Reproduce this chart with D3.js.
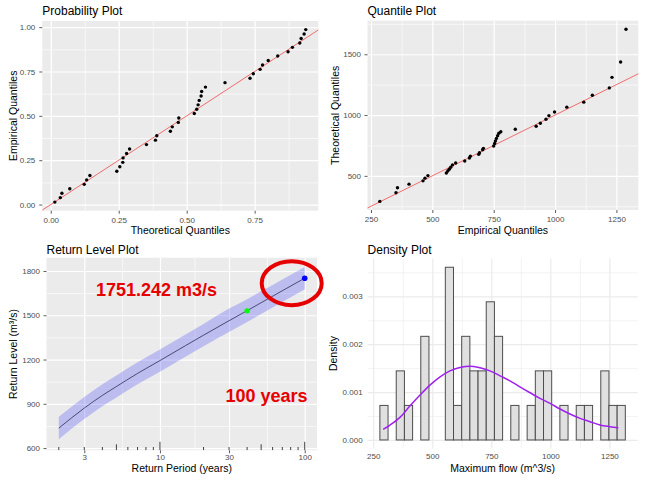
<!DOCTYPE html>
<html>
<head>
<meta charset="utf-8">
<script src="https://cdn.jsdelivr.net/npm/d3@7"></script>
<style>
  body { margin: 0; background: #fff; }
  svg { display: block; }
</style>
</head>
<body>
<svg id="chart" width="647" height="480"></svg>
<script>
// ---- data ----
// probability plot: fitted CDF at each sorted observation vs plotting position
const probTheoretical = [0.015, 0.035, 0.041, 0.070, 0.123, 0.132, 0.144, 0.243, 0.254, 0.265,
  0.266, 0.279, 0.290, 0.352, 0.385, 0.390, 0.440, 0.447, 0.469, 0.471,
  0.528, 0.537, 0.542, 0.546, 0.553, 0.555, 0.569, 0.641, 0.733, 0.745,
  0.770, 0.779, 0.800, 0.835, 0.873, 0.889, 0.916, 0.921, 0.932, 0.938];
const probEmpirical = [0.014, 0.039, 0.064, 0.089, 0.114, 0.139, 0.164, 0.188, 0.213, 0.238,
  0.263, 0.288, 0.313, 0.338, 0.363, 0.388, 0.413, 0.438, 0.463, 0.488,
  0.513, 0.537, 0.562, 0.587, 0.612, 0.637, 0.662, 0.687, 0.712, 0.737,
  0.762, 0.787, 0.812, 0.837, 0.861, 0.886, 0.911, 0.936, 0.961, 0.986];

// annual maximum flows (sorted) and the fitted model quantiles
const maxFlow = [286, 352, 358, 405, 462, 470, 482, 557, 563, 569,
  575, 582, 595, 632, 651, 655, 689, 692, 705, 708,
  750, 754, 757, 761, 766, 771, 779, 838, 923, 940,
  963, 975, 998, 1048, 1117, 1152, 1221, 1232, 1267, 1289];
const modelQuantile = [290, 361, 402, 432, 459, 481, 502, 524, 540, 554,
  571, 590, 606, 622, 647, 661, 677, 690, 715, 726,
  745, 766, 786, 808, 830, 850, 863, 883, 908, 932,
  965, 995, 1025, 1065, 1106, 1163, 1223, 1310, 1436, 1705];

// return levels with confidence band
const returnPeriod = [2, 3, 4, 5, 7, 10, 15, 20, 30, 40, 50, 70, 100];
const returnLevel  = [735, 871, 957, 1017, 1106, 1193, 1294, 1365, 1463, 1531, 1585, 1666, 1751.242];
const levelLower   = [660, 797, 883, 943, 1032, 1118, 1219, 1290, 1386, 1454, 1508, 1590, 1677];
const levelUpper   = [812, 946, 1032, 1092, 1181, 1268, 1370, 1441, 1545, 1609, 1662, 1743, 1827];
const greenPoint = [40, 1530];
const bluePoint  = [100, 1751.242];

// histogram bins and fitted density curve
const binStart = 278, binWidth = 34.65, binCount = 30;
const densFlow  = [292, 321, 363, 405, 448, 490, 533, 575, 617, 660, 702, 744, 787,
  829, 871, 914, 956, 999, 1041, 1083, 1126, 1168, 1210, 1253, 1288];
const densValue = [0.000222, 0.000312, 0.000472, 0.000708, 0.000938, 0.001146, 0.001319,
  0.001444, 0.001514, 0.001542, 0.001507, 0.001444, 0.00134, 0.001236, 0.00111,
  0.000986, 0.000868, 0.000764, 0.000646, 0.000542, 0.000451, 0.000382, 0.000312,
  0.000278, 0.000257];

// tick labels
const probTicks = [0, 0.25, 0.5, 0.75, 1];
const probMinor = [0.125, 0.375, 0.625, 0.875];
const flowTicks = [250, 500, 750, 1000, 1250];
const flowMinor = [375, 625, 875, 1125];
const qTicksY = [500, 1000, 1500];
const qMinorY = [250, 750, 1250, 1750];
const rpTicks = [3, 10, 30, 100];
const rpMinor = [5.48, 17.3, 54.8];
const rlTicks = [600, 900, 1200, 1500, 1800];
const rlMinor = [750, 1050, 1350, 1650];
const densTicks = [0, 0.001, 0.002, 0.003];
const densMinor = [0.0005, 0.0015, 0.0025, 0.0035];
const logTicks = [2, 3, 4, 5, 6, 7, 8, 9, 10, 20, 30, 40, 50, 60, 70, 80, 90, 100];

// ---- drawing ----
const FONT = '"Liberation Sans", Arial, sans-serif';
const svg = d3.select("#chart");
svg.append("rect").attr("width", 647).attr("height", 480).attr("fill", "#fff");

function expand(ext) {
  const d = ext[1] - ext[0];
  return [ext[0] - d * 0.05, ext[1] + d * 0.05];
}

let clipId = 0;
function panel(box, x, y, o) {
  const g = svg.append("g");
  const w = box.r - box.l, h = box.b - box.t;
  if (o.bg) g.append("rect").attr("x", box.l).attr("y", box.t)
    .attr("width", w).attr("height", h).attr("fill", o.bg);

  const inX = v => { const p = x(v); return p >= box.l - 0.5 && p <= box.r + 0.5; };
  const inY = v => { const p = y(v); return p >= box.t - 0.5 && p <= box.b + 0.5; };
  const grid = (vals, sw) => {
    g.append("g").attr("transform", `translate(0,${box.b})`)
      .call(d3.axisBottom(x).tickValues(vals.filter(inX)).tickSize(-h).tickFormat(""))
      .call(s => s.select(".domain").remove())
      .call(s => s.selectAll("line").attr("stroke", o.grid).attr("stroke-width", sw));
  };
  const gridY = (vals, sw) => {
    g.append("g").attr("transform", `translate(${box.l},0)`)
      .call(d3.axisLeft(y).tickValues(vals.filter(inY)).tickSize(-w).tickFormat(""))
      .call(s => s.select(".domain").remove())
      .call(s => s.selectAll("line").attr("stroke", o.grid).attr("stroke-width", sw));
  };
  grid(o.xMinor, 0.6); gridY(o.yMinor, 0.6);
  grid(o.xTicks, 1.2); gridY(o.yTicks, 1.2);

  const ax = g.append("g").attr("transform", `translate(0,${box.b})`)
    .call(d3.axisBottom(x).tickValues(o.xTicks.filter(inX)).tickSize(o.tick).tickPadding(o.padX).tickFormat(o.xFmt));
  const ay = g.append("g").attr("transform", `translate(${box.l},0)`)
    .call(d3.axisLeft(y).tickValues(o.yTicks.filter(inY)).tickSize(o.tick).tickPadding(o.padY).tickFormat(o.yFmt));
  [ax, ay].forEach(a => {
    a.select(".domain").remove();
    a.selectAll("line").attr("stroke", "#333").attr("stroke-width", 0.8);
    a.selectAll("text").attr("fill", "#4d4d4d").attr("font-size", 8).attr("font-family", FONT);
  });

  g.append("text").attr("x", box.l).attr("y", o.titleY).text(o.title)
    .attr("font-family", FONT).attr("font-size", 12).attr("fill", "#000");
  g.append("text").attr("x", (box.l + box.r) / 2).attr("y", o.xTitleY).text(o.xTitle)
    .attr("text-anchor", "middle").attr("font-family", FONT).attr("font-size", 10.5).attr("fill", "#000");
  g.append("text").attr("transform", `translate(${o.yTitleX},${(box.t + box.b) / 2}) rotate(-90)`)
    .text(o.yTitle).attr("text-anchor", "middle").attr("font-family", FONT)
    .attr("font-size", 10.5).attr("fill", "#000");

  const id = "clip" + (clipId++);
  svg.append("clipPath").attr("id", id).append("rect")
    .attr("x", box.l).attr("y", box.t).attr("width", w).attr("height", h);
  return g.append("g").attr("clip-path", `url(#${id})`);
}

// 1. Probability plot
{
  const box = { l: 42.3, r: 318.3, t: 21, b: 210.7 };
  const x = d3.scaleLinear().domain(expand(d3.extent(probTheoretical))).range([box.l, box.r]);
  const y = d3.scaleLinear().domain(expand(d3.extent(probEmpirical))).range([box.b, box.t]);
  const p = panel(box, x, y, {
    bg: "#ebebeb", grid: "#fff", tick: 3, padX: 3.5, padY: 4,
    xTicks: probTicks, xMinor: probMinor, yTicks: probTicks, yMinor: probMinor,
    xFmt: d3.format(".2f"), yFmt: d3.format(".2f"),
    title: "Probability Plot", titleY: 15, xTitle: "Theoretical Quantiles", xTitleY: 233.5,
    yTitle: "Empirical Quantiles", yTitleX: 16.5
  });
  const d0 = x.domain();
  p.append("path").datum([d0[0] - 0.1, d0[1] + 0.1])
    .attr("d", d3.line().x(v => x(v)).y(v => y(v)))
    .attr("stroke", "#f24b4b").attr("stroke-width", 0.8).attr("fill", "none");
  p.selectAll("circle").data(probTheoretical).join("circle")
    .attr("cx", d => x(d)).attr("cy", (d, i) => y(probEmpirical[i])).attr("r", 1.7).attr("fill", "#000");
}

// 2. Quantile plot
{
  const box = { l: 367.5, r: 638.3, t: 20.7, b: 210 };
  const x = d3.scaleLinear().domain(expand(d3.extent(maxFlow))).range([box.l, box.r]);
  const y = d3.scaleLinear().domain(expand(d3.extent(modelQuantile))).range([box.b, box.t]);
  const p = panel(box, x, y, {
    bg: "#ebebeb", grid: "#fff", tick: 3, padX: 3.5, padY: 3.5,
    xTicks: flowTicks, xMinor: flowMinor, yTicks: qTicksY, yMinor: qMinorY,
    xFmt: d3.format("d"), yFmt: d3.format("d"),
    title: "Quantile Plot", titleY: 15, xTitle: "Empirical Quantiles", xTitleY: 233.5,
    yTitle: "Theoretical Quantiles", yTitleX: 338.5
  });
  const d0 = x.domain();
  p.append("path").datum([d0[0] - 100, d0[1] + 100])
    .attr("d", d3.line().x(v => x(v)).y(v => y(v)))
    .attr("stroke", "#f24b4b").attr("stroke-width", 0.8).attr("fill", "none");
  p.selectAll("circle").data(maxFlow).join("circle")
    .attr("cx", d => x(d)).attr("cy", (d, i) => y(modelQuantile[i])).attr("r", 1.7).attr("fill", "#000");
}

// 3. Return level plot
{
  const box = { l: 46.5, r: 317, t: 257.7, b: 450.3 };
  const lx = expand(d3.extent(returnPeriod).map(Math.log10));
  const x = d3.scaleLog().domain(lx.map(v => Math.pow(10, v))).range([box.l, box.r]);
  const y = d3.scaleLinear().domain([585, 1890]).range([box.b, box.t]);
  const p = panel(box, x, y, {
    bg: "#ebebeb", grid: "#fff", tick: 3, padX: 1.2, padY: 3.5,
    xTicks: rpTicks, xMinor: rpMinor, yTicks: rlTicks, yMinor: rlMinor,
    xFmt: d3.format("d"), yFmt: d3.format("d"),
    title: "Return Level Plot", titleY: 253.5, xTitle: "Return Period (years)", xTitleY: 471.5,
    yTitle: "Return Level (m³/s)", yTitleX: 17
  });
  const idx = d3.range(returnPeriod.length);
  p.append("path").datum(idx)
    .attr("d", d3.area().curve(d3.curveMonotoneX)
      .x(i => x(returnPeriod[i])).y0(i => y(levelLower[i])).y1(i => y(levelUpper[i])))
    .attr("fill", "#0000ff").attr("fill-opacity", 0.2);
  p.append("path").datum(idx)
    .attr("d", d3.line().curve(d3.curveMonotoneX).x(i => x(returnPeriod[i])).y(i => y(returnLevel[i])))
    .attr("stroke", "#1a1a40").attr("stroke-width", 0.7).attr("fill", "none");
  // log ticks along the bottom
  p.selectAll("line.lt").data(logTicks).join("line").attr("class", "lt")
    .attr("x1", d => x(d)).attr("x2", d => x(d)).attr("y1", box.b)
    .attr("y2", d => box.b - (Math.log10(d) % 1 === 0 ? 8.5 : (d === 5 || d === 50 ? 6 : 3.3)))
    .attr("stroke", "#111").attr("stroke-width", 0.8);
  p.append("circle").attr("cx", x(greenPoint[0])).attr("cy", y(greenPoint[1])).attr("r", 2.7).attr("fill", "#00ff00");
  p.append("circle").attr("cx", x(bluePoint[0])).attr("cy", y(bluePoint[1])).attr("r", 2.8).attr("fill", "#0000ff");

  // hand-drawn annotations
  svg.append("ellipse").attr("cx", x(bluePoint[0]) - 13).attr("cy", y(bluePoint[1]) + 5)
    .attr("rx", 30).attr("ry", 22).attr("fill", "none").attr("stroke", "#e60000").attr("stroke-width", 4);
  svg.append("text").attr("x", 96).attr("y", 295.5).text(d3.format(".3f")(bluePoint[1]) + " m3/s")
    .attr("font-family", FONT).attr("font-weight", "bold").attr("font-size", 18).attr("fill", "#e60000");
  svg.append("text").attr("x", 307.5).attr("y", 402).attr("text-anchor", "end").text(bluePoint[0] + " years")
    .attr("font-family", FONT).attr("font-weight", "bold").attr("font-size", 18).attr("fill", "#e60000");
}

// 4. Density plot
{
  const box = { l: 367.6, r: 637.6, t: 258.6, b: 448.6 };
  const edges = d3.range(binCount + 1).map(i => binStart + i * binWidth);
  const bins = d3.bin().domain([edges[0], edges[binCount]]).thresholds(edges.slice(1, -1))(maxFlow);
  const dens = bins.map(b => b.length / (maxFlow.length * binWidth));
  const x = d3.scaleLinear().domain(expand([edges[0], edges[binCount]])).range([box.l, box.r]);
  const y = d3.scaleLinear().domain(expand([0, d3.max(dens)])).range([box.b, box.t]);
  const p = panel(box, x, y, {
    bg: null, grid: "#ebebeb", tick: 0, padX: 4.5, padY: 5,
    xTicks: flowTicks, xMinor: flowMinor, yTicks: densTicks, yMinor: densMinor,
    xFmt: d3.format("d"), yFmt: d3.format(".3f"),
    title: "Density Plot", titleY: 253.5, xTitle: "Maximum flow (m^3/s)", xTitleY: 471.5,
    yTitle: "Density", yTitleX: 337
  });
  p.selectAll("rect.bar").data(bins).join("rect").attr("class", "bar")
    .attr("x", b => x(b.x0)).attr("width", b => x(b.x1) - x(b.x0))
    .attr("y", (b, i) => y(dens[i])).attr("height", (b, i) => y(0) - y(dens[i]))
    .attr("fill", "#e0e0e0").attr("stroke", "#4d4d4d").attr("stroke-width", 1);
  p.append("path").datum(d3.range(densFlow.length))
    .attr("d", d3.line().curve(d3.curveMonotoneX).x(i => x(densFlow[i])).y(i => y(densValue[i])))
    .attr("stroke", "#a020f0").attr("stroke-width", 1.5).attr("fill", "none");
}
</script>
</body>
</html>
